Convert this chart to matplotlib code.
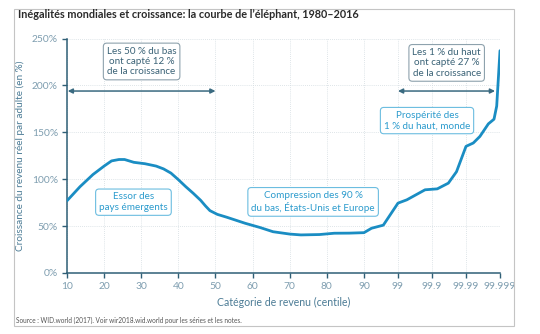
import numpy as np
import matplotlib
matplotlib.use("Agg")
import matplotlib.pyplot as plt
from matplotlib.patches import Rectangle

plt.rcParams['font.family'] = ['Lato', 'DejaVu Sans']

# Income percentile and real income growth per adult, 1980-2016 (%)
percentile = [10, 13.5, 17, 20, 22, 24, 25.5, 28, 31, 34, 36, 38, 40, 42, 44,
              46, 47.3, 48.5, 50.5, 53, 58, 62, 65.5, 70, 73, 78, 82, 86, 90,
              94, 97.3, 99, 99.45, 99.84, 99.93, 99.967, 99.981, 99.99,
              99.9939, 99.9961, 99.9978, 99.9985, 99.99875, 99.999]
growth = [77, 92, 105, 114, 119.5, 121, 121, 118, 116.5, 114, 111, 106.5,
          99.5, 92, 85, 77.5, 71.5, 66.5, 62.5, 59.5, 53, 48.5, 44, 41.5,
          40.6, 41, 42.4, 42.5, 43, 47.7, 51, 74.5, 78, 88.7, 89.7, 95.8,
          108, 135, 138.6, 145.6, 159, 164, 178, 237]

tick_values = [10, 20, 30, 40, 50, 60, 70, 80, 90, 99, 99.9, 99.99, 99.999]
tick_labels = ["10", "20", "30", "40", "50", "60", "70", "80", "90",
               "99", "99.9", "99.99", "99.999"]
y_ticks = [0, 50, 100, 150, 200, 250]

# Linear up to the 90th percentile, then one step per extra "9"
STEP = 0.916


def fwd(p):
    p = np.asarray(p, dtype=float)
    lin = (p - 10) / 10
    tail = 8 + STEP * (1 - np.log10(np.clip(100 - p, 1e-9, None)))
    return np.where(p <= 90, lin, tail)


def inv(u):
    u = np.asarray(u, dtype=float)
    lin = 10 + 10 * u
    tail = 100 - 10 ** (1 - (u - 8) / STEP)
    return np.where(u <= 8, lin, tail)


SPINE = '#2f5f76'
TICKTXT = '#7f9eb0'
LABEL = '#4b7b95'
LINE = '#1a8dc3'
DARKTXT = '#3a6276'
BLUETXT = '#2b9bcd'

fig = plt.figure(figsize=(5.40, 3.34), dpi=100)
ax = fig.add_axes([67 / 540, 1 - 273 / 334, 433 / 540, 234.5 / 334])
ax.set_xscale('function', functions=(fwd, inv))

ax.plot(percentile, growth, color=LINE, lw=2.0, solid_capstyle='round',
        solid_joinstyle='round', zorder=3)

ax.set_xlim(10, 99.999)
ax.set_ylim(0, 250)
ax.set_xticks(tick_values)
ax.set_xticklabels(tick_labels)
ax.set_yticks(y_ticks)
ax.set_yticklabels([f"{v}%" for v in y_ticks])
ax.xaxis.set_minor_locator(plt.NullLocator())

for side in ('top', 'right'):
    ax.spines[side].set_visible(False)
for side in ('left', 'bottom'):
    ax.spines[side].set_color(SPINE)
    ax.spines[side].set_linewidth(1.1)
ax.tick_params(axis='both', colors=SPINE, labelcolor=TICKTXT, labelsize=7.4,
               length=3.5, width=1.0, pad=3)
ax.grid(True, color='#d3dce1', lw=0.6, ls=(0, (1, 1.5)))
ax.set_axisbelow(True)

ax.set_xlabel("Catégorie de revenu (centile)", color=LABEL, fontsize=7.6,
              labelpad=4)
ax.set_ylabel("Croissance du revenu réel par adulte (en %)", color=LABEL,
              fontsize=7.2, labelpad=5)

dark_box = dict(boxstyle='round,pad=0.35,rounding_size=0.35', fc='white',
                ec='#8ea2ad', lw=0.8)
blue_box = dict(boxstyle='round,pad=0.35,rounding_size=0.35', fc='white',
                ec='#6cbde0', lw=0.8)

ax.text(30.1, 225.5, "Les 50 % du bas\nont capté 12 %\nde la croissance",
        ha='center', va='center', fontsize=7.1, color=DARKTXT,
        linespacing=1.2, bbox=dark_box, zorder=4)
ax.text(99.963, 224, "Les 1 % du haut\nont capté 27 %\nde la croissance",
        ha='center', va='center', fontsize=7.1, color=DARKTXT,
        linespacing=1.2, bbox=dark_box, zorder=4)
ax.text(99.86, 162.5, "Prospérité des\n1 % du haut, monde",
        ha='center', va='center', fontsize=7.1, color=BLUETXT,
        linespacing=1.2, bbox=blue_box, zorder=4)
ax.text(27.9, 75.5, "Essor des\npays émergents",
        ha='center', va='center', fontsize=7.1, color=BLUETXT,
        linespacing=1.2, bbox=blue_box, zorder=4)
ax.text(76.3, 75.8, "Compression des 90 %\ndu bas, États-Unis et Europe",
        ha='center', va='center', fontsize=7.1, color=BLUETXT,
        linespacing=1.2, bbox=blue_box, zorder=4)

arrow = dict(arrowstyle='<|-|>', color='#3a6a80', lw=1.1,
             mutation_scale=7, shrinkA=0, shrinkB=0)
ax.annotate("", xy=(50, 194), xytext=(10.2, 194), arrowprops=arrow, zorder=4)
ax.annotate("", xy=(99.9986, 194), xytext=(99, 194), arrowprops=arrow,
            zorder=4)

fig.patches.append(Rectangle((14 / 540, 1 - 326 / 334), 500 / 540, 317 / 334,
                             transform=fig.transFigure, fill=False,
                             edgecolor='#c4c4c4', lw=0.8))
fig.text(18 / 540, 1 - 15 / 334,
         "Inégalités mondiales et croissance: la courbe de l’éléphant, 1980–2016",
         fontsize=7.8, fontweight='bold', color='#2a2a2a', va='center',
         ha='left')
fig.text(16 / 540, 1 - 320.5 / 334,
         "Source : WID.world (2017). Voir wir2018.wid.world pour les séries "
         "et les notes.", fontsize=4.7, color='#555555', va='center',
         ha='left')

fig.savefig("out.png", dpi=100)
